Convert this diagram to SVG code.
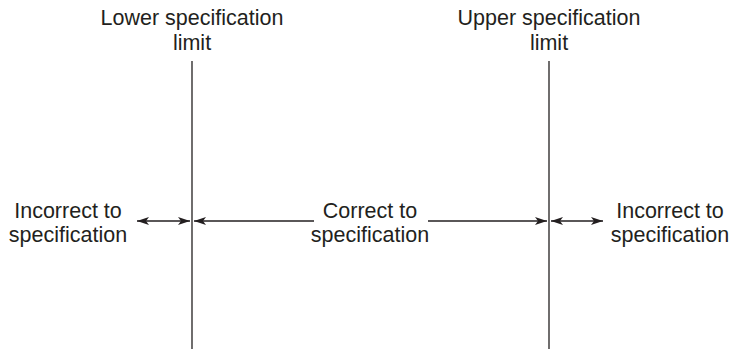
<svg xmlns="http://www.w3.org/2000/svg" width="731" height="349" viewBox="0 0 731 349">
<style>
text{font-family:"Liberation Sans",Arial,sans-serif;font-size:21.5px;fill:#231f20;text-anchor:middle}
.l{stroke:#231f20;stroke-width:1.3;fill:none}
</style>
<defs>
<marker id="ah" viewBox="0 0 12 8" refX="12" refY="4" markerWidth="12" markerHeight="8" markerUnits="userSpaceOnUse" orient="auto-start-reverse">
<path d="M0,0 L12,4 L0,8 L3,4 Z" fill="#231f20"/>
</marker>
</defs>
<g id="lsl">
<text x="192" y="25">Lower specification</text>
<text x="192" y="50">limit</text>
<line class="l" x1="192" y1="61" x2="192" y2="349"/>
</g>
<g id="usl">
<text x="549" y="25">Upper specification</text>
<text x="549" y="50">limit</text>
<line class="l" x1="549" y1="61" x2="549" y2="349"/>
</g>
<g id="left-label">
<text x="68" y="217.5">Incorrect to</text>
<text x="68" y="241.5">specification</text>
</g>
<g id="mid-label">
<text x="370" y="217.5">Correct to</text>
<text x="370" y="241.5">specification</text>
</g>
<g id="right-label">
<text x="670" y="217.5">Incorrect to</text>
<text x="670" y="241.5">specification</text>
</g>
<g id="connectors">
<line class="l" x1="137" y1="221" x2="190" y2="221" marker-start="url(#ah)" marker-end="url(#ah)"/>
<line class="l" x1="194" y1="221" x2="314" y2="221" marker-start="url(#ah)"/>
<line class="l" x1="428" y1="221" x2="547" y2="221" marker-end="url(#ah)"/>
<line class="l" x1="551" y1="221" x2="603" y2="221" marker-start="url(#ah)" marker-end="url(#ah)"/>
</g>
</svg>
